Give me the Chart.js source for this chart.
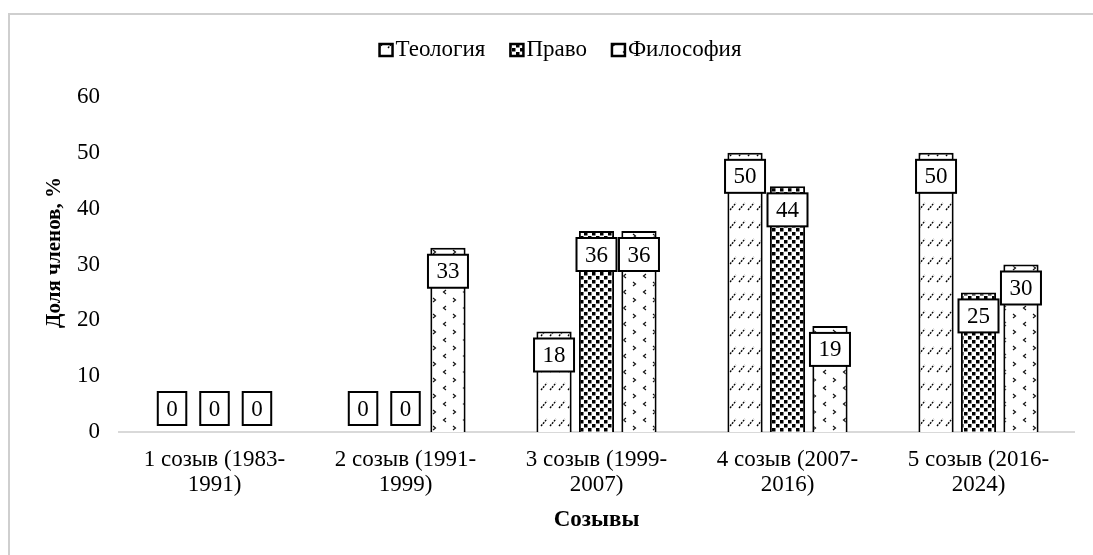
<!DOCTYPE html>
<html>
<head>
<meta charset="utf-8">
<script src="https://cdn.jsdelivr.net/npm/chart.js@4.4.1/dist/chart.umd.min.js"></script>
<style>
  html, body { margin: 0; padding: 0; background: #fff; overflow: hidden; }
  #wrap { position: absolute; left: 0; top: 0; width: 1093px; height: 555px; }
  #frame { position: absolute; left: 8px; top: 13px; width: 1200px; height: 700px;
           border-left: 2px solid #cfcfcf; border-top: 2px solid #cfcfcf; box-sizing: border-box; }
  canvas { position: absolute; left: 0; top: 0; }
</style>
</head>
<body>
<div id="wrap">
  <div id="frame"></div>
  <canvas id="c" width="1093" height="555"></canvas>
</div>
<script>
// ---- data ----
const categories = [
  ["1 созыв (1983-", "1991)"],
  ["2 созыв (1991-", "1999)"],
  ["3 созыв (1999-", "2007)"],
  ["4 созыв (2007-", "2016)"],
  ["5 созыв (2016-", "2024)"]
];
const seriesNames = ["Теология", "Право", "Философия"];
const theology = [0, 0, 18, 50, 50];
const law = [0, 0, 36, 44, 25];
const philosophy = [0, 33, 36, 19, 30];
const yTicks = [0, 10, 20, 30, 40, 50, 60];
const yTitle = "Доля членов, %";
const xTitle = "Созывы";

const SERIF = "'Liberation Serif', 'Times New Roman', serif";

// ---- patterns ----
function makeTile(w, h, draw) {
  const c = document.createElement('canvas');
  c.width = w; c.height = h;
  const g = c.getContext('2d');
  g.fillStyle = '#fff';
  g.fillRect(0, 0, w, h);
  draw(g);
  return document.getElementById('c').getContext('2d').createPattern(c, 'repeat');
}
const patTheology = makeTile(9, 18, g => {
  g.strokeStyle = '#000';
  g.lineWidth = 1.3;
  g.setLineDash([2, 1]);
  g.beginPath();
  g.moveTo(1, 12);
  g.lineTo(7, 5);
  g.stroke();
});
const patLaw = makeTile(8, 8, g => {
  g.fillStyle = '#000';
  g.fillRect(0, 0, 3.5, 3.5);
  g.fillRect(4, 4, 3.5, 3.5);
});
const patPhil = makeTile(20, 16, g => {
  g.strokeStyle = '#111';
  g.lineWidth = 1.2;
  g.beginPath();
  g.moveTo(6, 2); g.lineTo(3.5, 4); g.lineTo(6, 6);
  g.moveTo(13, 10); g.lineTo(15.5, 12); g.lineTo(13, 14);
  g.stroke();
});

// ---- value label boxes ----
const boxLabels = {
  id: 'boxLabels',
  afterDatasetsDraw(chart) {
    const ctx = chart.ctx;
    ctx.save();
    ctx.font = "23px " + SERIF;
    ctx.textAlign = 'center';
    ctx.textBaseline = 'middle';
    chart.data.datasets.forEach((ds, i) => {
      const meta = chart.getDatasetMeta(i);
      meta.data.forEach((bar, j) => {
        const txt = String(ds.data[j]);
        const tw = ctx.measureText(txt).width;
        const w = tw + 17;
        const h = 33;
        let top = bar.y + 7;
        if (top + h > bar.base - 7) top = bar.base - 7 - h;
        const left = bar.x - w / 2;
        ctx.fillStyle = '#fff';
        ctx.fillRect(left, top, w, h);
        ctx.lineWidth = 2;
        ctx.strokeStyle = '#000';
        ctx.strokeRect(left, top, w, h);
        ctx.fillStyle = '#000';
        ctx.fillText(txt, bar.x, top + h / 2 + 1);
      });
    });
    ctx.restore();
  }
};

// ---- legend (Excel-like: small square, tight gap) and y-axis title ----
const excelDecor = {
  id: 'excelDecor',
  afterDraw(chart) {
    const ctx = chart.ctx;
    ctx.save();
    ctx.font = "23px " + SERIF;
    ctx.textBaseline = 'alphabetic';
    ctx.textAlign = 'left';
    const box = 13, gapText = 3, gapItem = 25;
    const items = chart.data.datasets.map(ds => ({
      label: ds.label, fill: ds.backgroundColor, tw: ctx.measureText(ds.label).width
    }));
    const total = items.reduce((s, it) => s + box + gapText + it.tw, 0) + gapItem * (items.length - 1);
    let x = chart.width / 2 + 14 - total / 2;
    const yBase = 56;
    items.forEach(it => {
      ctx.fillStyle = it.fill;
      ctx.fillRect(x, yBase - 12, box, 12);
      ctx.lineWidth = 2.5;
      ctx.strokeStyle = '#000';
      ctx.strokeRect(x, yBase - 12, box, 12);
      ctx.fillStyle = '#000';
      ctx.fillText(it.label, x + box + gapText, yBase);
      x += box + gapText + it.tw + gapItem;
    });
    ctx.restore();

    // y-axis title
    const ca = chart.chartArea;
    ctx.save();
    ctx.font = "bold 21px " + SERIF;
    ctx.fillStyle = '#000';
    ctx.textAlign = 'center';
    ctx.textBaseline = 'middle';
    ctx.translate(55, (ca.top + ca.bottom) / 2 - 12);
    ctx.rotate(-Math.PI / 2);
    ctx.fillText(yTitle, 0, 0);
    ctx.restore();
  }
};

const datasets = [
  { label: seriesNames[0], data: theology, backgroundColor: patTheology },
  { label: seriesNames[1], data: law, backgroundColor: patLaw },
  { label: seriesNames[2], data: philosophy, backgroundColor: patPhil }
].map(d => Object.assign(d, {
  borderColor: '#000',
  borderWidth: 2,
  categoryPercentage: 0.667,
  barPercentage: 0.83
}));

new Chart(document.getElementById('c'), {
  type: 'bar',
  data: { labels: categories, datasets },
  plugins: [boxLabels, excelDecor],
  options: {
    responsive: false,
    animation: false,
    layout: { padding: { left: 30, right: 19, top: 97, bottom: 21 } },
    plugins: {
      tooltip: { enabled: false },
      legend: { display: false }
    },
    scales: {
      x: {
        grid: { display: false, drawTicks: false },
        border: { display: true, color: '#d9d9d9', width: 2 },
        ticks: { font: { family: SERIF, size: 23, lineHeight: 1.07 }, color: '#000', padding: 16, maxRotation: 0, autoSkip: false },
        title: { display: true, text: xTitle, color: '#000',
                 font: { family: SERIF, size: 23, weight: 'bold' }, padding: { top: 0, bottom: 0 } },
        afterFit(scale) { scale.height = 102; }
      },
      y: {
        min: 0, max: 60,
        afterBuildTicks(scale) { scale.ticks = yTicks.map(v => ({ value: v })); },
        grid: { display: false, drawTicks: false },
        border: { display: false },
        ticks: { font: { family: SERIF, size: 23 }, color: '#000', padding: 19 },
        title: { display: false, text: yTitle },
        afterFit(scale) { scale.width = 89; }
      }
    }
  }
});
</script>
</body>
</html>
